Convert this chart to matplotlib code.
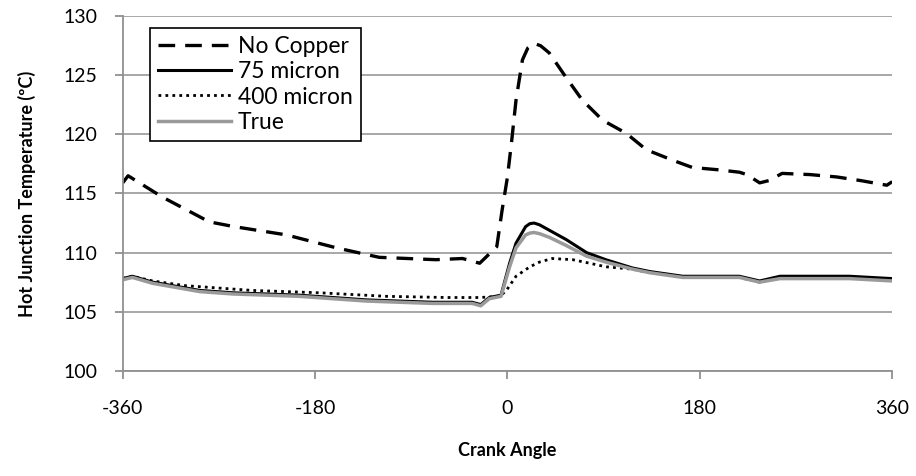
import matplotlib
matplotlib.use('Agg')
import matplotlib.pyplot as plt

plt.rcParams['font.family'] = ['Lato', 'DejaVu Sans']
plt.rcParams['axes.unicode_minus'] = False

# No Copper (dashed)
nc_x = [-360, -355, -323, -279, -256, -207, -160, -120, -67, -42, -26, -10, -5, 0, 4, 8, 14,
        19, 25, 31, 39, 55, 70, 89, 111, 130, 155, 173, 198, 217, 224, 236, 245, 257, 283, 308,
        330, 355, 360]
nc_y = [115.9, 116.5, 114.7, 112.6, 112.2, 111.5, 110.4, 109.6, 109.4, 109.5, 109.1, 110.5, 113.6,
        116.4, 119.5, 122.9, 126.3, 127.3, 127.7, 127.5, 126.9, 124.8, 122.9, 121.2, 120.1, 118.7,
        117.8, 117.2, 117.0, 116.8, 116.6, 115.9, 116.1, 116.7, 116.6, 116.4, 116.1, 115.7, 116.0]

# 75 micron (solid black)
m75_x = [-360, -351, -332, -288, -257, -195, -132, -70, -33, -25, -17, -6, 2, 8, 17, 21, 25, 30,
         39, 55, 74, 92, 117, 133, 164, 196, 217, 236, 255, 289, 320, 360]
m75_y = [107.8, 108.0, 107.5, 106.8, 106.6, 106.4, 106.0, 105.8, 105.8, 105.6, 106.2, 106.4, 109.1,
         110.8, 112.2, 112.45, 112.5, 112.35, 111.9, 111.1, 110.0, 109.4, 108.7, 108.4, 108.0,
         108.0, 108.0, 107.6, 108.0, 108.0, 108.0, 107.8]

# 400 micron (dotted)
m400_x = [-360, -351, -332, -301, -239, -176, -113, -57, -26, -7, -1, 8, 21, 30, 42, 61, 77, 92,
          117, 133, 164, 196, 217, 236, 255, 289, 320, 360]
m400_y = [107.8, 108.0, 107.6, 107.2, 106.8, 106.6, 106.3, 106.2, 106.2, 106.3, 106.8, 108.0,
          108.8, 109.2, 109.5, 109.4, 109.1, 108.8, 108.6, 108.3, 107.9, 107.9, 107.9, 107.5,
          107.9, 107.9, 107.9, 107.7]

# True (solid gray)
tr_x = [-360, -351, -332, -288, -257, -195, -132, -70, -33, -25, -17, -6, 2, 8, 17, 21, 25, 30,
        39, 55, 74, 92, 117, 133, 164, 196, 217, 236, 255, 289, 320, 360]
tr_y = [107.7, 107.9, 107.4, 106.7, 106.5, 106.3, 105.9, 105.7, 105.7, 105.5, 106.1, 106.3, 108.8,
        110.4, 111.5, 111.65, 111.7, 111.6, 111.3, 110.6, 109.7, 109.2, 108.6, 108.3, 107.9,
        107.9, 107.9, 107.5, 107.8, 107.8, 107.8, 107.6]

x_ticks = [-360, -180, 0, 180, 360]
y_ticks = [100, 105, 110, 115, 120, 125, 130]

fig = plt.figure(figsize=(9.16, 4.76), dpi=100)
ax = fig.add_axes([0.134, 0.221, 0.84, 0.745])

ax.plot(nc_x, nc_y, color='black', lw=2.4, dashes=(5, 3), label='No Copper')
ax.plot(m75_x, m75_y, color='black', lw=2.2, label='75 micron')
ax.plot(m400_x, m400_y, color='black', lw=2.0, dashes=(1, 1.5), label='400 micron')
ax.plot(tr_x, tr_y, color='#9a9a9a', lw=2.5, label='True')

ax.set_xlim(-360, 360)
ax.set_ylim(100, 130)
ax.set_xticks(x_ticks)
ax.set_yticks(y_ticks)
ax.grid(axis='y', color='#a0a0a0', lw=1.3)
ax.set_axisbelow(True)

for side in ['top', 'right']:
    ax.spines[side].set_visible(False)
for side in ['left', 'bottom']:
    ax.spines[side].set_color('#909090')
    ax.spines[side].set_linewidth(1.3)

ax.tick_params(axis='x', direction='out', length=6, width=1.3, color='#909090',
               labelsize=14, pad=15)
ax.tick_params(axis='y', direction='out', length=6, width=1.3, color='#909090',
               labelsize=14, pad=12)

ax.set_xlabel('Crank Angle', fontsize=13, fontweight='bold', labelpad=18)
ax.set_ylabel('Hot Junction Temperature (ºC)', fontsize=13, fontweight='bold', labelpad=20)

leg = ax.legend(loc='upper left', bbox_to_anchor=(0.035, 0.966), fontsize=16.5, frameon=True,
                fancybox=False, edgecolor='black', framealpha=1, handlelength=3.2,
                handletextpad=0.3, borderpad=0.35, labelspacing=0.18, borderaxespad=0)
leg.get_frame().set_linewidth(1.2)

plt.savefig('out.png', dpi=100)
